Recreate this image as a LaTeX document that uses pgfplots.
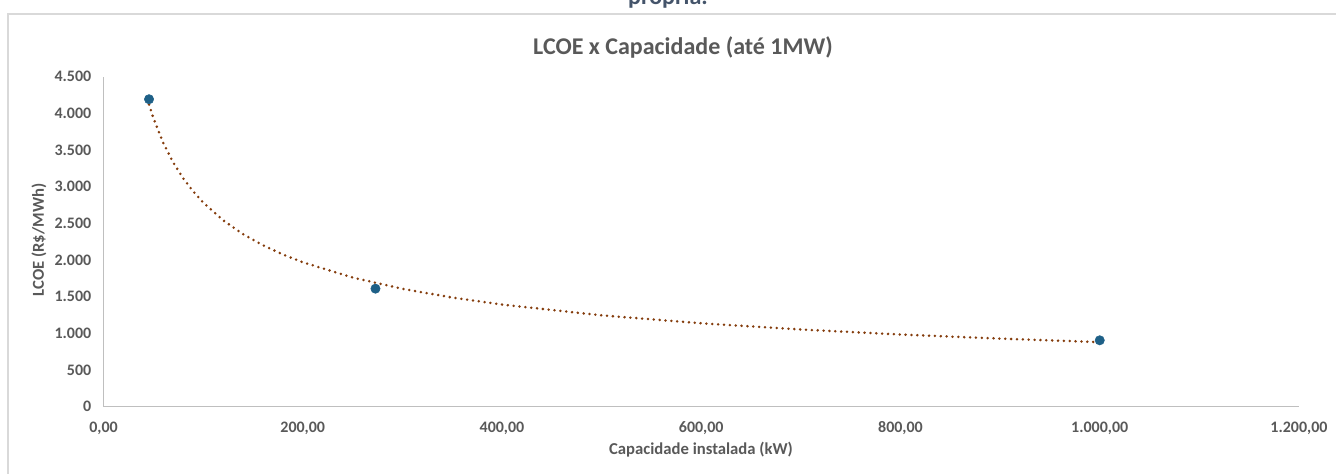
\documentclass[border=0pt]{standalone}
\usepackage{pgfplots}
\pgfplotsset{compat=1.18}
\usepackage{fontspec}
\setmainfont{Carlito}
\definecolor{txtgray}{RGB}{89,89,89}
\definecolor{axgray}{RGB}{191,191,191}
\definecolor{framegray}{RGB}{217,217,217}
\definecolor{headblue}{RGB}{68,84,106}
\definecolor{ptblue}{RGB}{30,96,135}
\definecolor{trendbrown}{RGB}{132,60,12}
\pgfplotstableread{
x y
45.7 4191
273 1609
1000 905
}\points
\pgfplotstableread{
x y
45.7 4118
50 3937
60 3594
70 3328
80 3113
90 2935
100 2784
120 2542
140 2353
160 2201
180 2075
200 1969
250 1761
300 1607
350 1488
400 1392
500 1245
600 1137
700 1052
800 984
900 928
1000 880
}\trend
\begin{document}
\begin{tikzpicture}[x=0.75pt,y=0.75pt]
\useasboundingbox (0,0) rectangle (1336,474);
\draw[framegray, line width=0.9pt] (8,-20) -- (8,460) -- (1345,460);
\node[anchor=base, font=\fontsize{18}{20}\selectfont\bfseries, text=headblue] at (668,469) {própria.};
\node[anchor=base, font=\fontsize{18}{20}\selectfont\bfseries, text=txtgray] at (683,419) {LCOE x Capacidade (até 1MW)};
\node[rotate=90, font=\fontsize{12.5}{14}\selectfont\bfseries, text=txtgray] at (39,234) {LCOE (R\$/MWh)};
\node[anchor=base, font=\fontsize{12.5}{14}\selectfont\bfseries, text=txtgray] at (701,19) {Capacidade instalada (kW)};
\begin{axis}[
  at={(77.625pt,50.475pt)}, anchor=south west,
  scale only axis, width=896.6pt, height=247.6pt,
  xmin=0, xmax=1200, ymin=0, ymax=4500,
  axis x line=bottom, axis y line=left,
  axis line style={-, draw=axgray, line width=0.9pt},
  xtick={0,200,400,600,800,1000,1200},
  xticklabels={{0,00},{200,00},{400,00},{600,00},{800,00},{1.000,00},{1.200,00}},
  ytick={0,500,1000,1500,2000,2500,3000,3500,4000,4500},
  yticklabels={0,500,1.000,1.500,2.000,2.500,3.000,3.500,4.000,4.500},
  major tick length=0pt,
  tick label style={font=\fontsize{12}{14}\selectfont\bfseries, text=txtgray, inner sep=0pt},
  yticklabel style={anchor=east, xshift=-9pt},
  xticklabel style={anchor=north, yshift=-11pt},
  clip=false,
]
\addplot[only marks, mark=*, mark size=3.5pt, mark options={fill=ptblue, draw=ptblue}] table[x=x,y=y] {\points};
\addplot[trendbrown, line width=2.1pt, line cap=round, dash pattern=on 0pt off 4.4pt] table[x=x,y=y] {\trend};
\end{axis}
\end{tikzpicture}
\end{document}
